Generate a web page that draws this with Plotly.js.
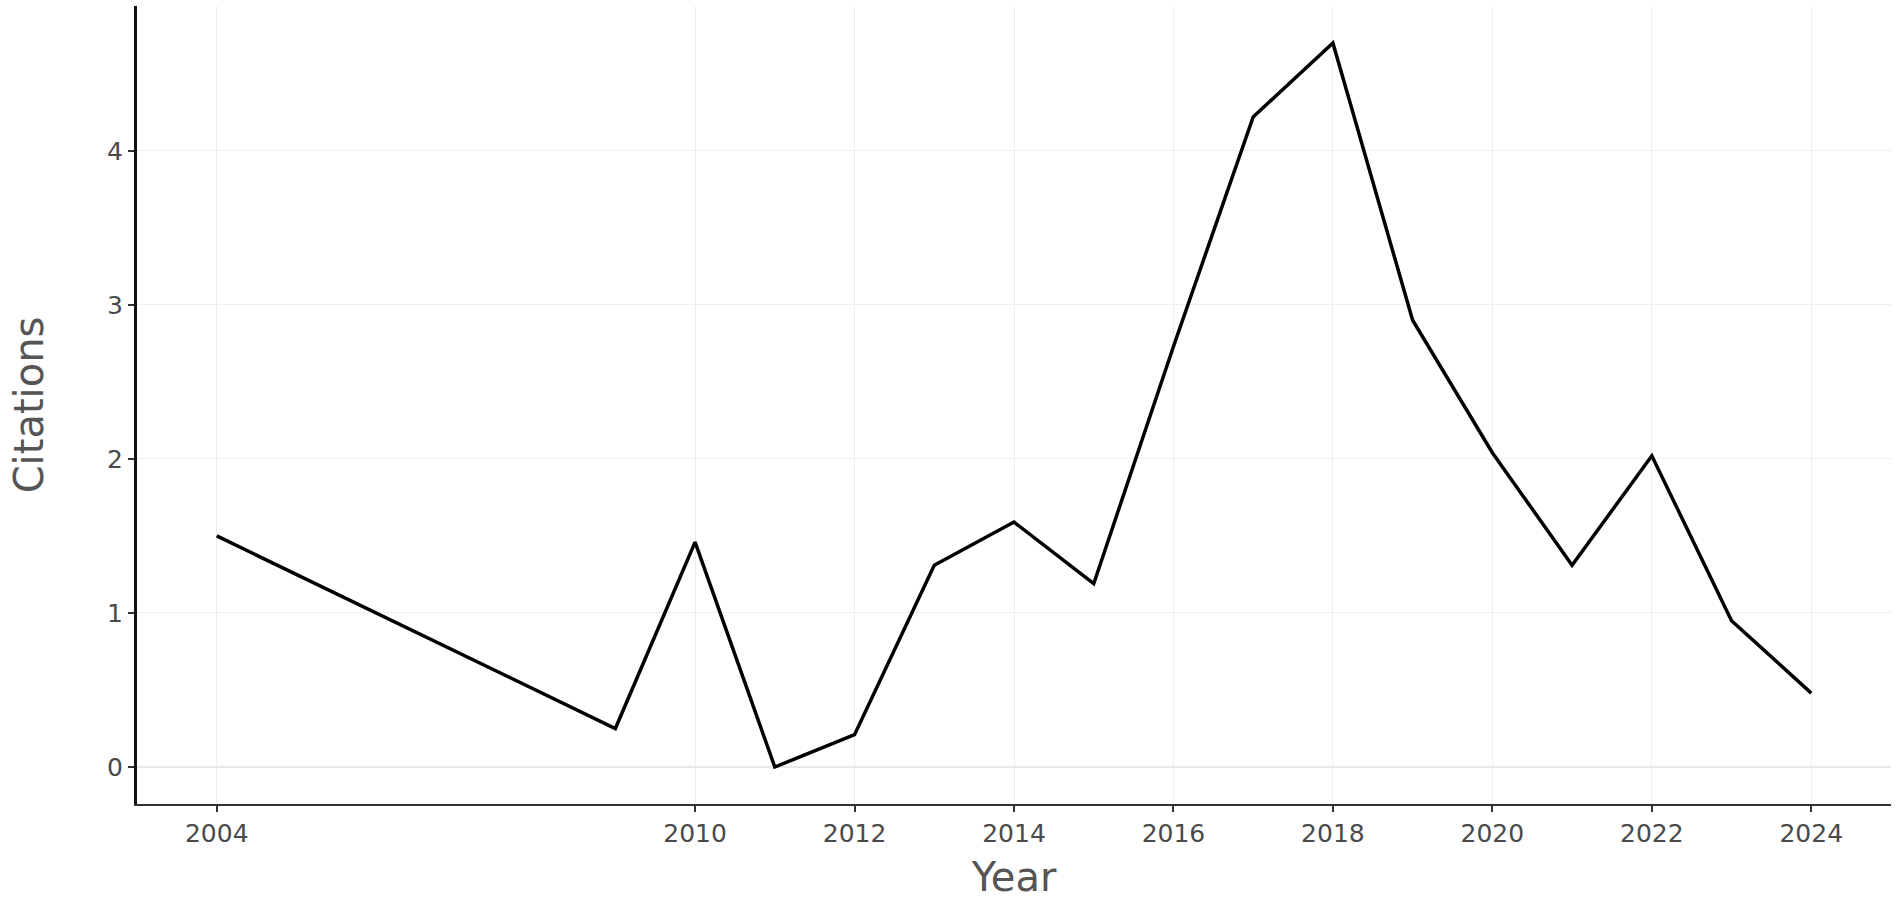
<!DOCTYPE html>
<html>
<head>
<meta charset="utf-8">
<script src="https://cdn.plot.ly/plotly-3.0.1.min.js"></script>
<style>
  html, body { margin: 0; padding: 0; background: #fff; }
  #myPlot { width: 1901px; height: 903px; }
</style>
</head>
<body>
<div id="myPlot"></div>
<script>
// Citations per year
const years = [2004, 2009, 2010, 2011, 2012, 2013, 2014, 2015, 2016, 2017, 2018, 2019, 2020, 2021, 2022, 2023, 2024];
const citations = [1.5, 0.25, 1.46, 0, 0.21, 1.31, 1.59, 1.19, 2.73, 4.22, 4.7, 2.9, 2.04, 1.31, 2.02, 0.95, 0.48];

// Tick labels
const xTicks = [2004, 2010, 2012, 2014, 2016, 2018, 2020, 2022, 2024];
const yTicks = [0, 1, 2, 3, 4];

const data = [{
  x: years,
  y: citations,
  type: "scatter",
  mode: "lines",
  line: {color: "#000000", width: 3.5},
  hoverinfo: "x+y"
}];

const layout = {
  width: 1901,
  height: 903,
  paper_bgcolor: "#ffffff",
  plot_bgcolor: "#ffffff",
  margin: {l: 137, r: 10, t: 6, b: 99},
  font: {family: "DejaVu Sans, Verdana, sans-serif", color: "#444444"},
  showlegend: false,
  xaxis: {
    title: {text: "Year", font: {size: 40, color: "#555555"}, standoff: 16},
    range: [2003, 2025],
    tickvals: xTicks,
    ticktext: xTicks.map(String),
    ticks: "outside",
    ticklen: 6,
    tickwidth: 1.5,
    tickcolor: "#333333",
    tickfont: {size: 25, color: "#4a4a4a"},
    showline: true,
    linecolor: "#333333",
    linewidth: 2,
    showgrid: true,
    gridcolor: "#eeeeee",
    gridwidth: 1,
    zeroline: false
  },
  yaxis: {
    title: {text: "Citations", font: {size: 40, color: "#555555"}, standoff: 52},
    range: [-0.24, 4.94],
    tickvals: yTicks,
    ticks: "outside",
    ticklen: 6,
    tickwidth: 1.5,
    tickcolor: "#333333",
    tickfont: {size: 25, color: "#4a4a4a"},
    showline: true,
    linecolor: "#111111",
    linewidth: 3,
    showgrid: true,
    gridcolor: "#eeeeee",
    gridwidth: 1,
    zeroline: true,
    zerolinecolor: "#e8e8e8",
    zerolinewidth: 2
  }
};

Plotly.newPlot("myPlot", data, layout, {displayModeBar: false});
</script>
</body>
</html>
